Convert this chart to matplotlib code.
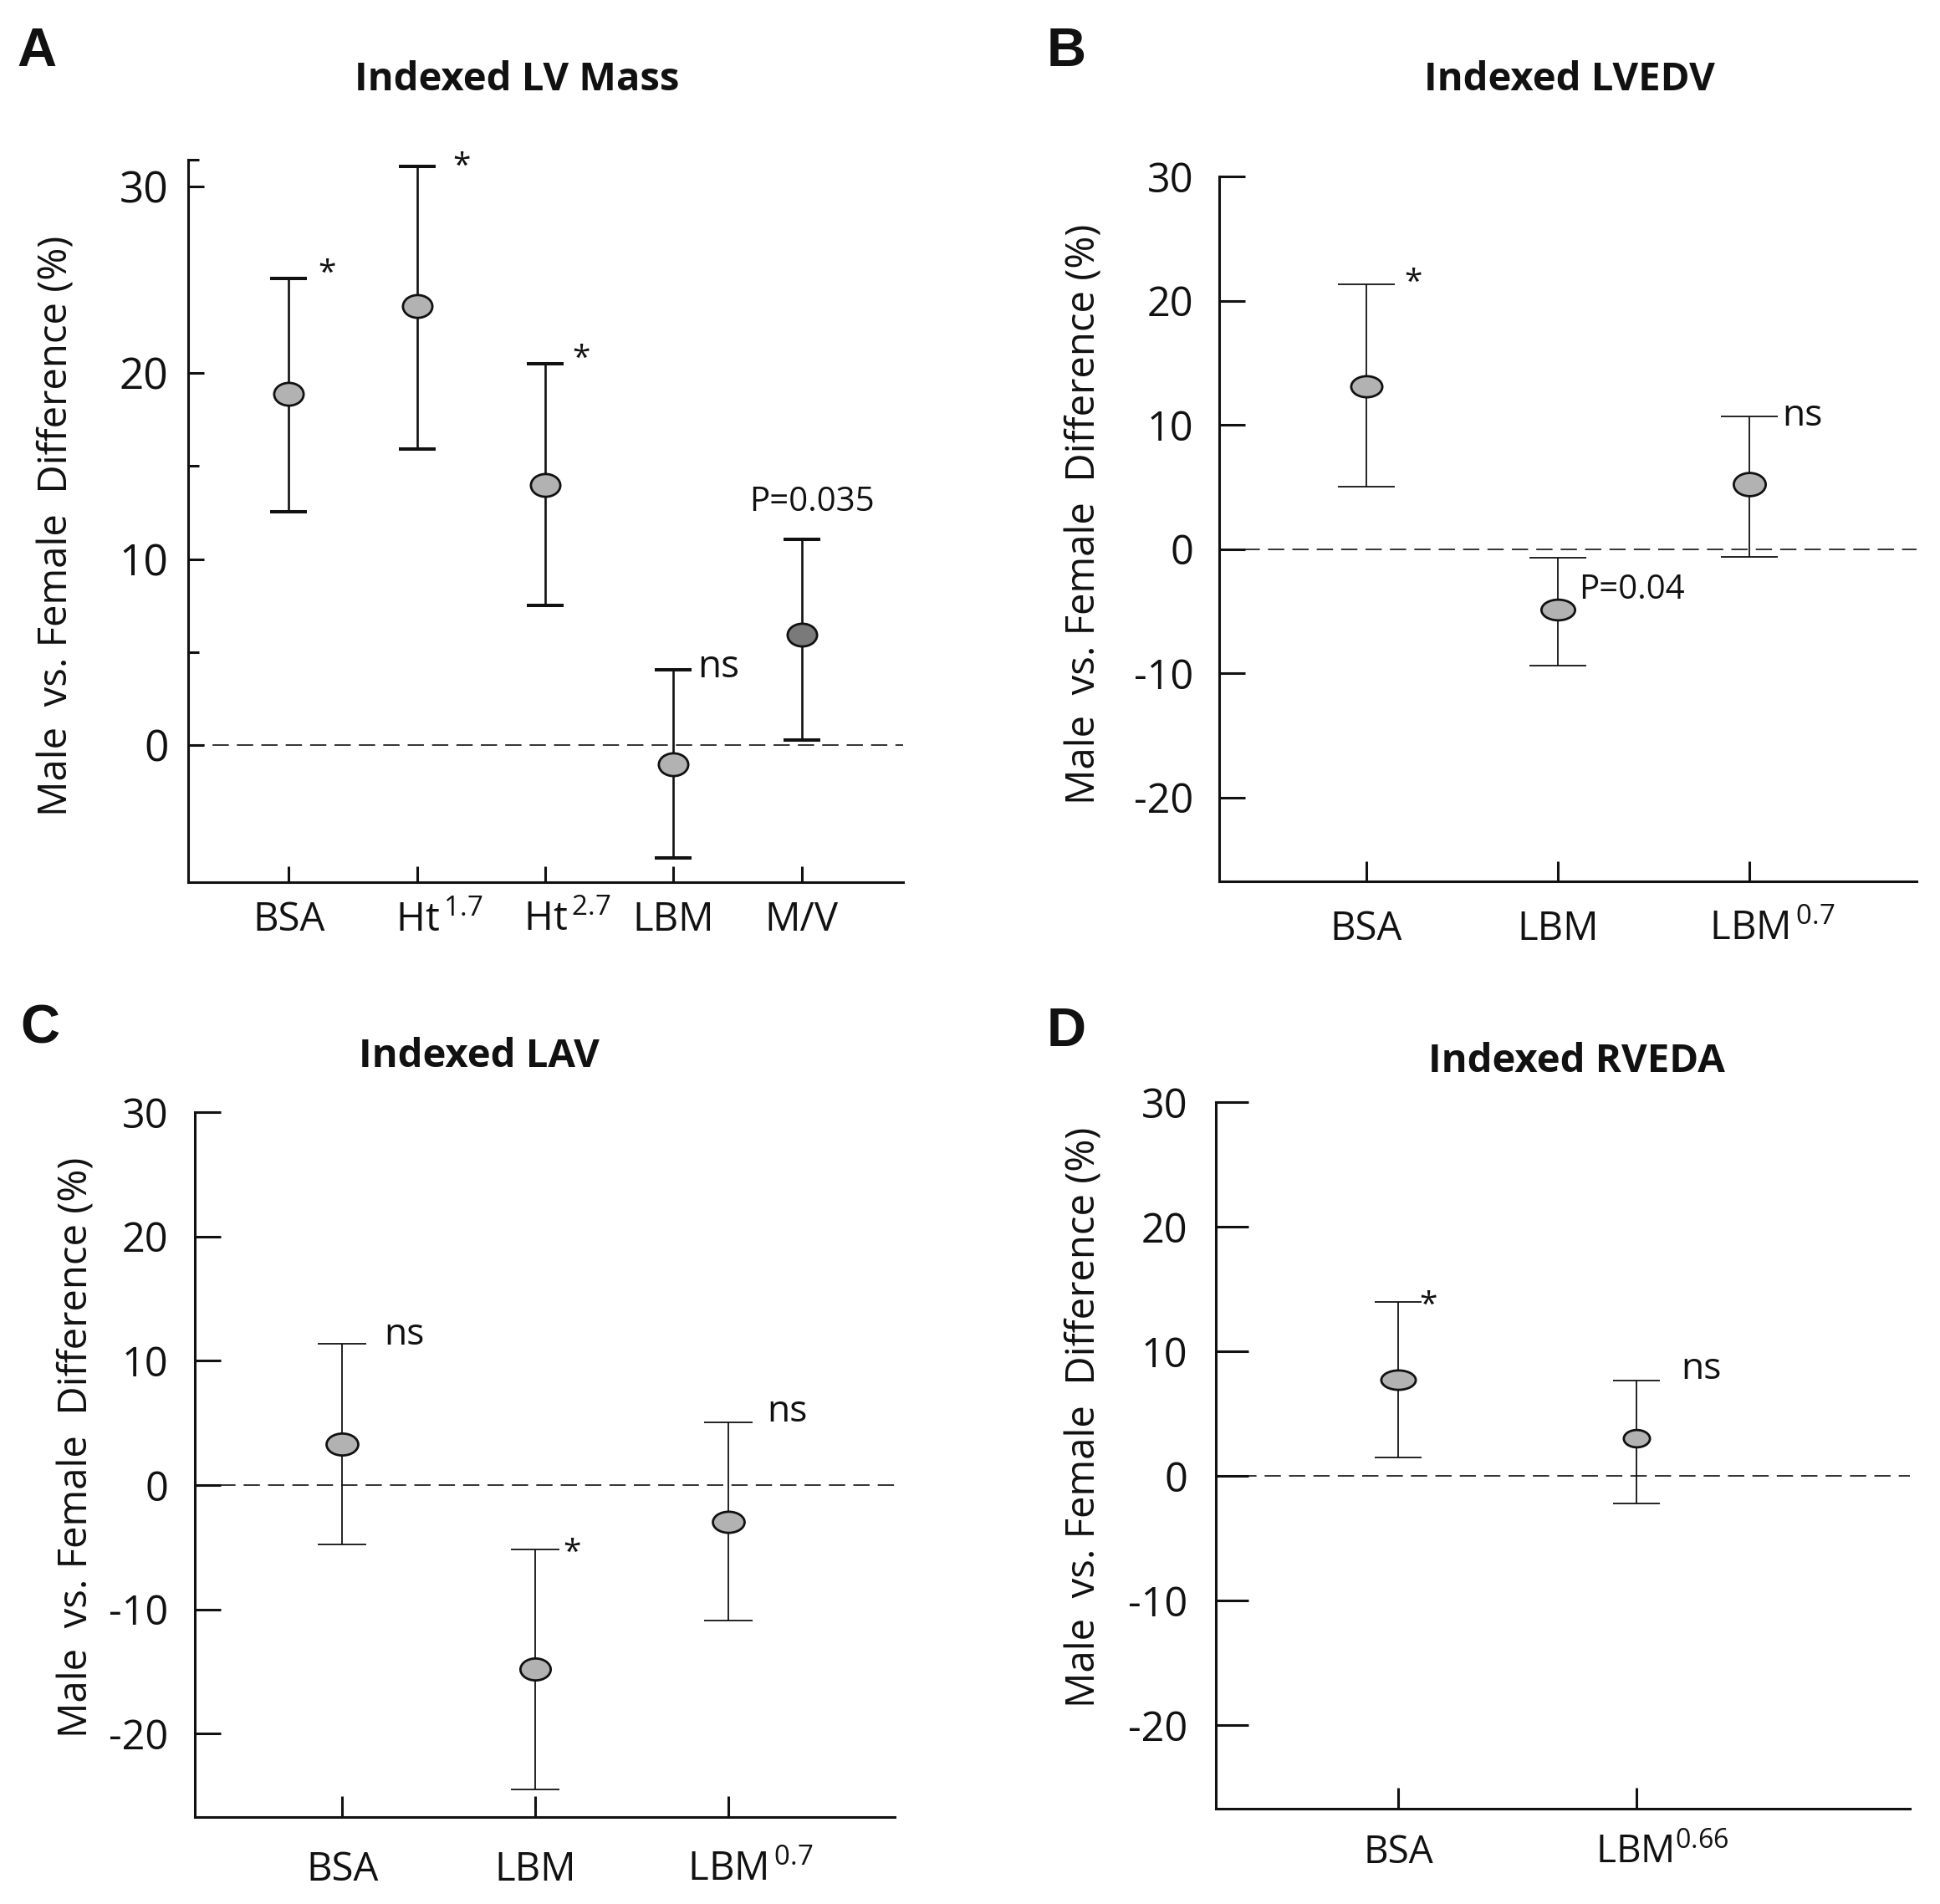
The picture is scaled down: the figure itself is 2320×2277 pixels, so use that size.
import matplotlib
matplotlib.use("Agg")
import matplotlib.pyplot as plt
import numpy as np
from matplotlib.path import Path

W, H = 2320, 2277
DPI = 100
PX = 72.0 / DPI  # points per pixel

plt.rcParams["font.family"] = ["Open Sans", "DejaVu Sans"]
plt.rcParams["axes.unicode_minus"] = False
plt.rcParams["mathtext.default"] = "regular"

# ---- data (male vs female difference, %) ----
a_labels = ["BSA", "Ht$^{\\,1.7}$", "Ht$^{\\,2.7}$", "LBM", "M/V"]
a_mean = [18.85, 23.6, 14.0, -1.0, 5.95]
a_upper = [25.05, 31.1, 20.5, 4.05, 11.05]
a_lower = [12.55, 15.9, 7.5, -6.05, 0.3]
a_marks = ["*", "*", "*", "ns", "P=0.035"]

b_labels = ["BSA", "LBM", "LBM$^{\\,0.7}$"]
b_mean = [13.1, -4.9, 5.2]
b_upper = [21.3, -0.73, 10.7]
b_lower = [5.05, -9.4, -0.64]
b_marks = ["*", "P=0.04", "ns"]

c_labels = ["BSA", "LBM", "LBM$^{\\,0.7}$"]
c_mean = [3.27, -14.8, -2.93]
c_upper = [11.4, -5.17, 5.07]
c_lower = [-4.78, -24.5, -10.9]
c_marks = ["ns", "*", "ns"]

d_labels = ["BSA", "LBM$^{0.66}$"]
d_mean = [7.73, 3.01]
d_upper = [13.95, 7.63]
d_lower = [1.46, -2.19]
d_marks = ["*", "ns"]

y_ticks_a = [0, 10, 20, 30]
y_ticks_bcd = [-20, -10, 0, 10, 20, 30]

LIGHT, DARK, INK = "#b2b2b2", "#7a7a7a", "#111111"


def ellipse(aspect):
    c = Path.unit_circle()
    return Path(c.vertices * np.array([aspect, 1.0]), c.codes)


def centred_base(label):
    # pad the left by roughly the exponent width so the base word sits on the tick
    if "$" not in label:
        return label
    sup = label.split("$", 1)[1]
    n_dig = sum(ch.isdigit() for ch in sup)
    em = 0.7 * (0.57 * n_dig + 0.27) + (0.17 if "\\," in sup else 0.0)
    return "$\\hspace{%.2f}$" % em + label


def draw_panel(fig, st, labels, mean, upper, lower, marks, yticks):
    l, t, r, b = st["rect"]
    ax = fig.add_axes([l / W, 1 - b / H, (r - l) / W, (b - t) / H])
    x = np.arange(1, len(mean) + 1)
    mean, upper, lower = map(np.asarray, (mean, upper, lower))

    ax.axhline(0, color="#333333", lw=1.4, ls=(0, (10, 5)), zorder=1)
    ax.errorbar(x, mean, yerr=[mean - lower, upper - mean], fmt="none",
                ecolor=INK, elinewidth=st["elw"], capsize=st["cap"],
                capthick=st["capw"], zorder=2)
    edge = 2.0
    for xi, m, w, h, fc in zip(x, mean, st["mw"], st["mh"], st["face"]):
        wpx, hpx = w - edge / PX, h - edge / PX
        ax.plot(xi, m, ls="none", marker=ellipse(wpx / hpx), ms=wpx * PX,
                mfc=fc, mec=INK, mew=edge, zorder=3)

    for txt, (tx, ty) in zip(marks, st["mark_xy"]):
        if txt == "*":
            ax.annotate(txt, (tx, ty), xytext=(0, -13), textcoords="offset points",
                        ha="center", va="baseline", fontsize=28, color=INK)
        else:
            ha = "center" if txt.startswith("P=0.03") else "left"
            ax.text(tx, ty, txt, ha=ha, va="baseline", fontsize=st["mfs"].get(txt, 32),
                    color=INK)

    ax.set_xlim(*st["xlim"])
    ax.set_ylim(*st["ylim"])
    ax.set_xticks(x)
    ax.set_xticklabels([centred_base(s) for s in labels])
    ax.set_yticks(yticks)
    ax.set_yticklabels([str(v) for v in yticks])
    if st.get("minor"):
        ax.set_yticks(st["minor"], minor=True)
    for side in ("top", "right"):
        ax.spines[side].set_visible(False)
    for side in ("left", "bottom"):
        ax.spines[side].set_linewidth(2.2)
        ax.spines[side].set_color(INK)
    ax.tick_params(axis="y", which="major", direction="in", length=st["ylen"],
                   width=2.2, pad=st["ypad"], labelsize=st["yfs"], colors=INK)
    ax.tick_params(axis="y", which="minor", direction="in", length=9, width=2.2,
                   color=INK)
    ax.tick_params(axis="x", direction="in", length=st["xlen"], width=2.2,
                   pad=st["xpad"], labelsize=st["xfs"], colors=INK)
    for lab in ax.get_xticklabels():
        lab.set_verticalalignment("baseline")

    def ftext(px, py, s, **kw):
        fig.text(px / W, 1 - py / H, s, ha="center", va="center", color=INK, **kw)

    ftext(*st["letter_xy"], st["letter"], fontsize=47, fontweight="bold",
          family=["Liberation Sans", "DejaVu Sans"])
    ftext(*st["title_xy"], st["title"], fontsize=34, fontweight="bold")
    ftext(*st["ylab_xy"], "Male  vs. Female  Difference (%)", fontsize=34, rotation=90)
    return ax


panels = [
    dict(letter="A", title="Indexed LV Mass", rect=(225, 190.5, 1080, 1055),
         xlim=(0.215, 5.79), ylim=(-7.34, 31.46), minor=[5, 15, 31.46],
         elw=1.9, cap=16, capw=2.9, mw=[38] * 5, mh=[30] * 5,
         face=[LIGHT, LIGHT, LIGHT, LIGHT, DARK],
         ylen=14, xlen=14, ypad=17, xpad=42, yfs=37, xfs=34,
         mark_xy=[(1.30, 25.65), (2.35, 31.4), (3.28, 21.1), (4.19, 3.67), (5.08, 12.57)],
         mfs={"ns": 33, "P=0.035": 29},
         letter_xy=(44, 62), title_xy=(618, 95), ylab_xy=(68, 629)),
    dict(letter="B", title="Indexed LVEDV", rect=(1458, 211, 2292, 1054.5),
         xlim=(0.235, 3.87), ylim=(-26.8, 30), minor=None,
         elw=1.3, cap=24.5, capw=1.3, mw=[40, 43, 41], mh=[28, 27.5, 30.5],
         face=[LIGHT] * 3,
         ylen=22, xlen=17, ypad=22, xpad=50, yfs=35, xfs=34,
         mark_xy=[(1.245, 21.9), (2.11, -4.0), (3.17, 9.94)],
         mfs={"ns": 32, "P=0.04": 29},
         letter_xy=(1275, 62), title_xy=(1877, 95), ylab_xy=(1297, 615)),
    dict(letter="C", title="Indexed LAV", rect=(233, 1330, 1070, 2173),
         xlim=(0.238, 3.86), ylim=(-26.7, 30), minor=None,
         elw=1.3, cap=21, capw=1.3, mw=[40.7, 39, 40.7], mh=[29, 29, 28],
         face=[LIGHT] * 3,
         ylen=22, xlen=18, ypad=23, xpad=55, yfs=35, xfs=34,
         mark_xy=[(1.215, 11.3), (2.19, -4.93), (3.2, 5.12)],
         mfs={"ns": 32},
         letter_xy=(48, 1231), title_xy=(573, 1263), ylab_xy=(92, 1731)),
    dict(letter="D", title="Indexed RVEDA", rect=(1454, 1318, 2284, 2162.5),
         xlim=(0.234, 3.15), ylim=(-26.66, 30), minor=None,
         elw=1.3, cap=20, capw=1.3, mw=[44, 34], mh=[26, 23.5],
         face=[LIGHT] * 2,
         ylen=28, xlen=18, ypad=24, xpad=47, yfs=35, xfs=33,
         mark_xy=[(1.125, 14.2), (2.19, 7.78)],
         mfs={"ns": 32},
         letter_xy=(1275, 1234), title_xy=(1885, 1270), ylab_xy=(1297, 1695)),
]

series = [
    (a_labels, a_mean, a_upper, a_lower, a_marks, y_ticks_a),
    (b_labels, b_mean, b_upper, b_lower, b_marks, y_ticks_bcd),
    (c_labels, c_mean, c_upper, c_lower, c_marks, y_ticks_bcd),
    (d_labels, d_mean, d_upper, d_lower, d_marks, y_ticks_bcd),
]

fig = plt.figure(figsize=(W / DPI, H / DPI), dpi=DPI)
for st, s in zip(panels, series):
    draw_panel(fig, st, *s)

fig.savefig("out.png", dpi=DPI, facecolor="white")
